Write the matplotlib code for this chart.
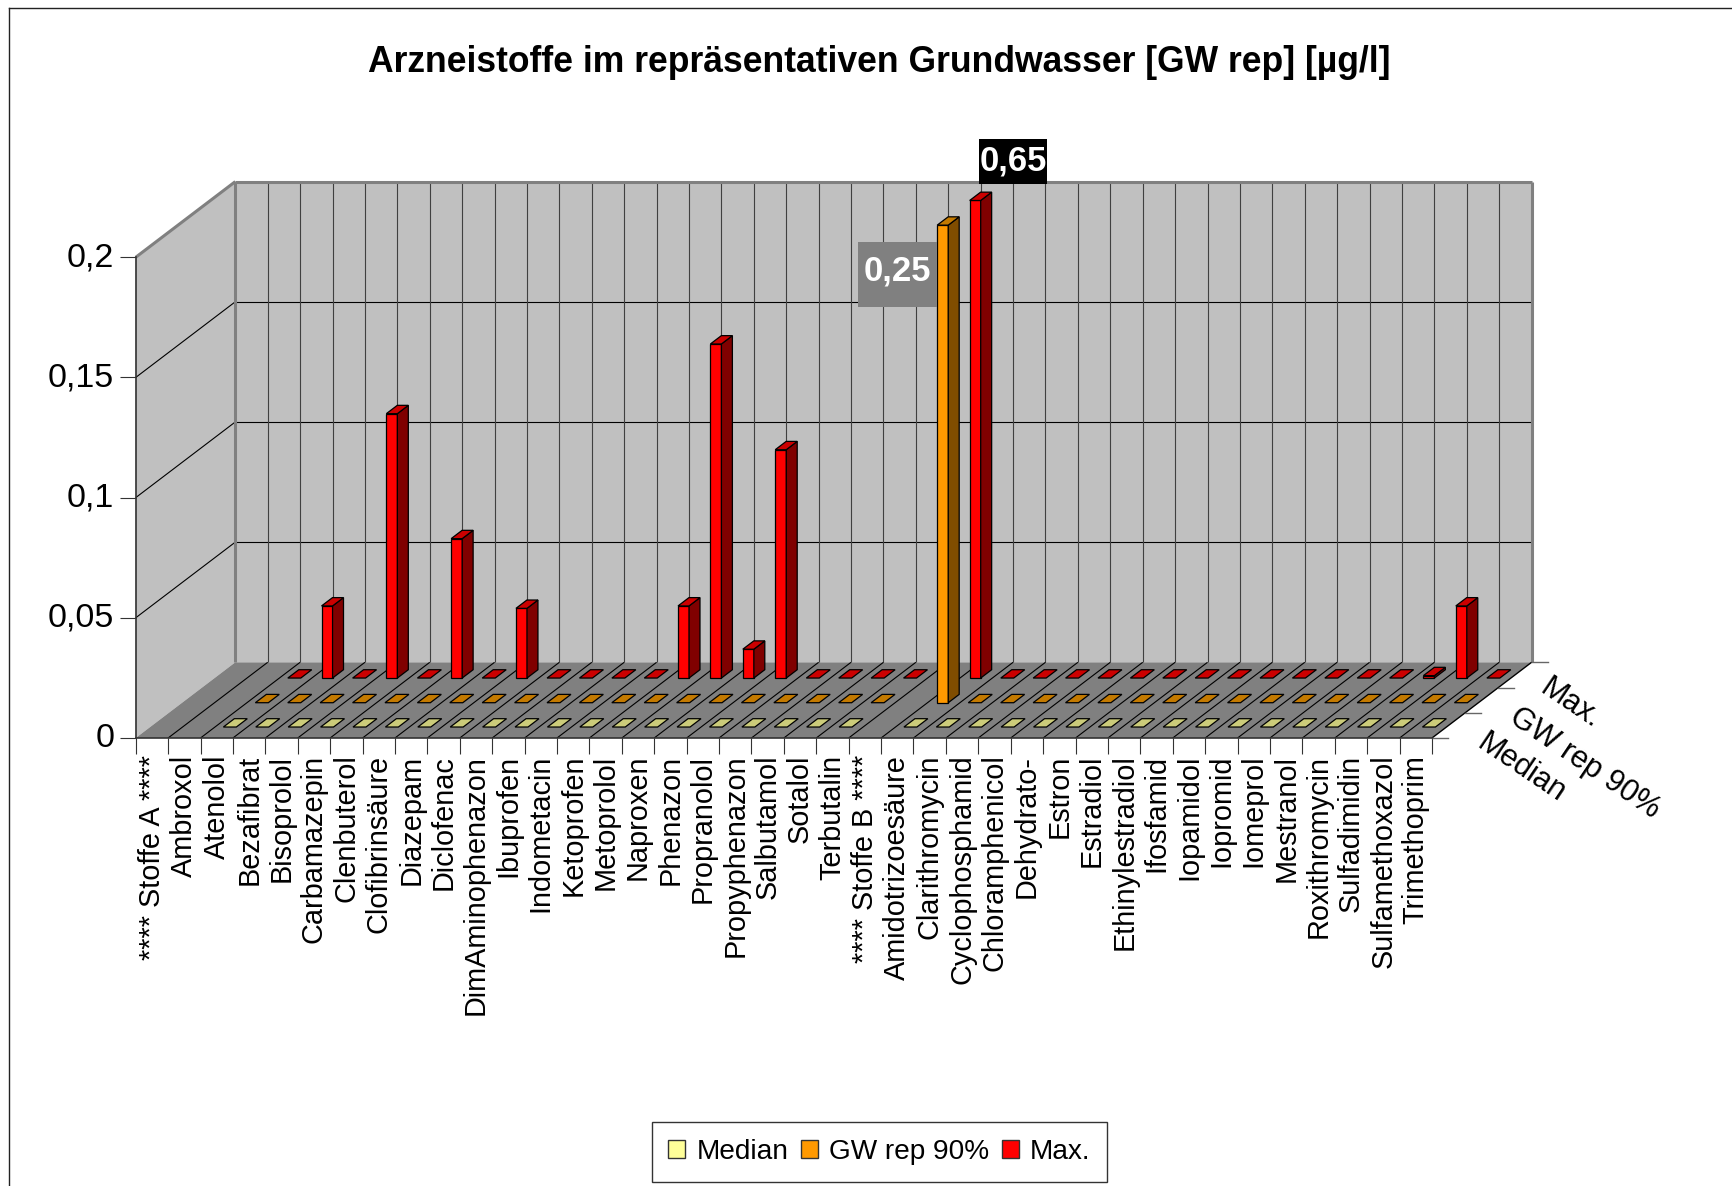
import matplotlib
matplotlib.use('Agg')
import matplotlib.pyplot as plt
from matplotlib.patches import Polygon, Patch, Rectangle
from matplotlib.lines import Line2D
from matplotlib.transforms import ScaledTranslation

plt.rcParams['font.family'] = ['Liberation Sans', 'DejaVu Sans']

W, H = 1733, 1186

categories = ['**** Stoffe A ****', 'Ambroxol', 'Atenolol', 'Bezafibrat', 'Bisoprolol',
              'Carbamazepin', 'Clenbuterol', 'Clofibrinsäure', 'Diazepam', 'Diclofenac',
              'DimAminophenazon', 'Ibuprofen', 'Indometacin', 'Ketoprofen', 'Metoprolol',
              'Naproxen', 'Phenazon', 'Propranolol', 'Propyphenazon', 'Salbutamol',
              'Sotalol', 'Terbutalin', '**** Stoffe B ****', 'Amidotrizoesäure',
              'Clarithromycin', 'Cyclophosphamid', 'Chloramphenicol', 'Dehydrato-',
              'Estron', 'Estradiol', 'Ethinylestradiol', 'Ifosfamid', 'Iopamidol',
              'Iopromid', 'Iomeprol', 'Mestranol', 'Roxithromycin', 'Sulfadimidin',
              'Sulfamethoxazol', 'Trimethoprim']

# None = kein Messwert
median = [None, None] + [0] * 20 + [None] + [0] * 17
gw_rep = [None, None] + [0] * 20 + [None, 0.25] + [0] * 16
maximum = [None, None, 0, 0.030, 0, 0.110, 0, 0.058, 0, 0.029, 0, 0, 0, 0,
           0.030, 0.139, 0.012, 0.095, 0, 0, 0, 0, None, 0.65, 0, 0, 0, 0, 0, 0,
           0, 0, 0, 0, 0, 0, 0, 0.001, 0.030, 0]

y_ticks = [0, 0.05, 0.1, 0.15, 0.2]
y_labels = ['0', '0,05', '0,1', '0,15', '0,2']
y_top = 0.2
bar_clip = 0.1987  # Säulen enden knapp unter der Oberkante

# Achsen: vordere Kante in Pixeln des Originals
x0, x1, y0, y1 = 135.7, 1432.0, 738.0, 257.3
fig = plt.figure(figsize=(W / 100, H / 100), dpi=100)
ax = fig.add_axes([x0 / W, 1 - y0 / H, (x1 - x0) / W, (y0 - y1) / H])
n = len(categories)
ax.set_xlim(0, n)
ax.set_ylim(0, y_top)

# schräge Tiefe in Dateneinheiten
DX = 99.6 / ((x1 - x0) / n)
DY = 75.7 / ((y0 - y1) / y_top)


def proj(c, d, v):
    return c + d * DX, v + d * DY


def poly(pts, **kw):
    ax.add_patch(Polygon([proj(*p) for p in pts], closed=True, clip_on=False, **kw))


def line(a, b, **kw):
    p, q = proj(*a), proj(*b)
    ax.plot([p[0], q[0]], [p[1], q[1]], clip_on=False, solid_capstyle='butt', **kw)


# Wände und Boden
poly([(0, 0, 0), (0, 1, 0), (0, 1, y_top), (0, 0, y_top)], fc='#c0c0c0', ec='none', zorder=1)
poly([(0, 1, 0), (n, 1, 0), (n, 1, y_top), (0, 1, y_top)], fc='#c0c0c0', ec='none', zorder=1)
poly([(0, 0, 0), (n, 0, 0), (n, 1, 0), (0, 1, 0)], fc='#808080', ec='none', zorder=1)

for t in y_ticks[1:-1]:
    line((0, 0, t), (0, 1, t), color='black', lw=0.8, zorder=2)
    line((0, 1, t), (n, 1, t), color='black', lw=0.8, zorder=2)
for i in range(1, n):
    line((i, 1, 0), (i, 1, y_top), color='#404040', lw=0.8, zorder=2)
for i in range(1, n):
    line((i, 0, 0), (i, 1, 0), color='black', lw=0.8, zorder=2)

gray = dict(color='#808080', lw=2.2, zorder=3)
line((0, 1, 0), (0, 1, y_top), **gray)
line((n, 1, 0), (n, 1, y_top), **gray)
line((0, 0, y_top), (0, 1, y_top), **gray)
line((0, 1, y_top), (n, 1, y_top), **gray)
line((n, 0, 0), (n, 1, 0), color='black', lw=1.0, zorder=3)

# Tiefenachse rechts
depth_labels = ['Median', 'GW rep 90%', 'Max.']
for k in range(4):
    p = proj(n, k / 3, 0)
    ax.plot([p[0], p[0] + 16 / ((x1 - x0) / n)], [p[1], p[1]], color='#666666', lw=1.0,
            clip_on=False, zorder=3)

# Säulen
rows = [(maximum, 0.792, '#ff0000', '#800000', '#cc0000'),
        (gw_rep, 0.466, '#ff9900', '#804d00', '#c47a00'),
        (median, 0.145, '#ffff99', '#808050', '#cccc7a')]
bar_depth = 0.11
z = 10
for values, d0, front, side, top in rows:
    d1 = d0 + bar_depth
    for i, v in enumerate(values):
        if v is None:
            continue
        v = min(v, bar_clip)
        z += 1
        # Nullwerte erscheinen als flache, etwas breitere Kacheln
        c0 = i + (0.26 if v == 0 else 0.30)
        c1 = c0 + (0.40 if v == 0 else 0.34)
        style = dict(ec='black', lw=0.9, zorder=z)
        if v > 0:
            poly([(c0, d0, 0), (c1, d0, 0), (c1, d0, v), (c0, d0, v)], fc=front, **style)
            poly([(c1, d0, 0), (c1, d1, 0), (c1, d1, v), (c1, d0, v)], fc=side, **style)
        poly([(c0, d0, v), (c1, d0, v), (c1, d1, v), (c0, d1, v)], fc=top, **style)

# Achsen
for s in ['top', 'right']:
    ax.spines[s].set_visible(False)
for s in ['left', 'bottom']:
    ax.spines[s].set_color('#333333')
    ax.spines[s].set_linewidth(1.2)
    ax.spines[s].set_zorder(4)
ax.patch.set_visible(False)
ax.set_yticks(y_ticks)
ax.set_yticklabels(y_labels, fontsize=24.5)
ax.tick_params(axis='y', length=11.5, width=0.8, color='#333333', pad=4)
lift = ScaledTranslation(0, 3 / 100, fig.dpi_scale_trans)
for lab in ax.get_yticklabels():
    lab.set_transform(lab.get_transform() + lift)
ax.set_xticks(range(n + 1))
ax.set_xticklabels([])
ax.set_xticks([i + 0.5 for i in range(n)], minor=True)
ax.set_xticklabels(categories, minor=True, rotation=90, fontsize=20.8)
ax.tick_params(axis='x', which='major', length=11.5, width=0.8, color='#333333')
ax.tick_params(axis='x', which='minor', length=0, pad=12)

# Texte in Bildkoordinaten
def fx(px):
    return px / W


def fy(py):
    return 1 - py / H


fig.text(fx(879), fy(63), 'Arzneistoffe im repräsentativen Grundwasser [GW rep] [µg/l]',
         fontsize=25.6, fontweight='bold', ha='center', va='center')

for text, px, py in zip(depth_labels, [1521, 1585, 1570], [768, 763, 704]):
    fig.text(fx(px), fy(py), text, fontsize=22, rotation=-34, rotation_mode='anchor',
             ha='center', va='center')

for text, box, fc, tx, ty in [('0,65', (979, 139, 1047, 184), 'black', 1013, 161),
                              ('0,25', (858, 242, 937, 307), '#808080', 897, 271)]:
    fig.add_artist(Rectangle((fx(box[0]), fy(box[3])), (box[2] - box[0]) / W,
                             (box[3] - box[1]) / H, transform=fig.transFigure,
                             fc=fc, ec='none', zorder=50))
    fig.text(fx(tx), fy(ty), text, color='white', fontsize=25, fontweight='bold',
             ha='center', va='center', zorder=51)

# Rahmen
fig.add_artist(Line2D([fx(9), fx(9)], [0, fy(8)], color='#222222', lw=1.0))
fig.add_artist(Line2D([fx(9), 1], [fy(8), fy(8)], color='#222222', lw=1.0))

# Legende
handles = [Patch(fc='#ffff99', ec='#333333', label='Median'),
           Patch(fc='#ff9900', ec='#333333', label='GW rep 90%'),
           Patch(fc='#ff0000', ec='#333333', label='Max.')]
fig.legend(handles=handles, ncol=3, loc='center', bbox_to_anchor=(fx(879.5), fy(1152)),
           fontsize=20.2, frameon=True, fancybox=False, framealpha=1, edgecolor='#333333',
           handlelength=0.6, handleheight=0.6, handletextpad=0.4, columnspacing=0.45,
           borderpad=0.6, borderaxespad=0)

fig.savefig('out.png', dpi=100)
